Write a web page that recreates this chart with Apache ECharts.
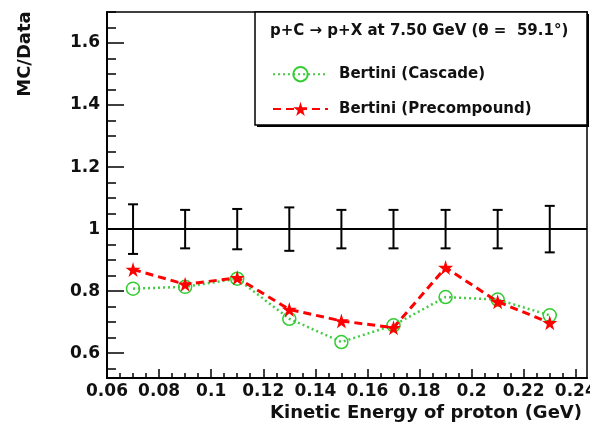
<!DOCTYPE html>
<html>
<head>
<meta charset="utf-8">
<script src="https://cdn.jsdelivr.net/npm/echarts@6/dist/echarts.min.js"></script>
<style>html,body{margin:0;padding:0;background:#fff}#c{width:590px;height:426px}</style>
</head>
<body>
<div id="c"></div>
<script>
// ---- data ----
const energies = [0.07, 0.09, 0.11, 0.13, 0.15, 0.17, 0.19, 0.21, 0.23];
const cascade = [0.808, 0.814, 0.84, 0.711, 0.636, 0.69, 0.781, 0.773, 0.722];
const precompound = [0.87, 0.822, 0.843, 0.741, 0.704, 0.682, 0.876, 0.766, 0.698];
const dataRatio = [1, 1, 1, 1, 1, 1, 1, 1, 1];
const dataErr = [0.08, 0.062, 0.065, 0.07, 0.062, 0.062, 0.062, 0.062, 0.075];
const xTickVals = [0.06, 0.08, 0.1, 0.12, 0.14, 0.16, 0.18, 0.2, 0.22, 0.24];
const xTickLabels = ['0.06', '0.08', '0.1', '0.12', '0.14', '0.16', '0.18', '0.2', '0.22', '0.24'];
const yTickVals = [0.6, 0.8, 1.0, 1.2, 1.4, 1.6];
const yTickLabels = ['0.6', '0.8', '1', '1.2', '1.4', '1.6'];
const seriesNames = ['Bertini (Cascade)', 'Bertini (Precompound)'];
const titleText = 'p+C \u2192 p+X at 7.50 GeV (\u03b8 =  59.1\u00b0)';
const xTitle = 'Kinetic Energy of proton (GeV)';
const yTitle = 'MC/Data';
const refValue = 1;
const xMin = 0.06, xMax = 0.2443, yMin = 0.52, yMax = 1.7;

// minor tick positions
const xMinor = [];
for (let i = 0; i <= 40; i++) { const v = +(0.06 + i * 0.005).toFixed(4); if (v <= xMax) xMinor.push(v); }
const yMinor = [];
for (let i = 0; i <= 30; i++) { const v = +(0.55 + i * 0.05).toFixed(4); if (v <= yMax) yMinor.push(v); }

const FONT = 'DejaVu Sans';
const chart = echarts.init(document.getElementById('c'), null, { renderer: 'canvas' });

function lbl(vals, labels) {
  return function (v) {
    for (let i = 0; i < vals.length; i++) if (Math.abs(vals[i] - v) < 1e-6) return labels[i];
    return '';
  };
}

const starPath = 'path://M50,0 L61,35 L98,35 L68,57 L79,91 L50,70 L21,91 L32,57 L2,35 L39,35 Z';

chart.setOption({
  animation: false,
  backgroundColor: '#fff',
  grid: { left: 107, right: 3, top: 12, bottom: 48, show: true, borderColor: '#000', borderWidth: 1.5,
    backgroundColor: 'transparent', containLabel: false, outerBoundsMode: 'none' },
  xAxis: [{
    type: 'value', min: xMin, max: xMax,
    axisLine: { show: true, lineStyle: { color: '#000', width: 2 } },
    axisTick: { show: true, inside: true, length: 9, customValues: xTickVals, lineStyle: { color: '#000', width: 1.5 } },
    axisLabel: { show: true, customValues: xTickVals, formatter: lbl(xTickVals, xTickLabels), margin: 5,
      fontFamily: FONT, fontWeight: 'bold', fontSize: 17, color: '#111', hideOverlap: false },
    splitLine: { show: false }
  }, {
    type: 'value', min: xMin, max: xMax, position: 'bottom',
    axisLine: { show: false },
    axisTick: { show: true, inside: true, length: 5, customValues: xMinor, lineStyle: { color: '#000', width: 1.5 } },
    axisLabel: { show: false },
    splitLine: { show: false }
  }],
  yAxis: [{
    type: 'value', min: yMin, max: yMax,
    axisLine: { show: true, lineStyle: { color: '#000', width: 2 } },
    axisTick: { show: true, inside: true, length: 17, customValues: yTickVals, lineStyle: { color: '#000', width: 1.5 } },
    axisLabel: { show: true, customValues: yTickVals, formatter: lbl(yTickVals, yTickLabels), margin: 7,
      fontFamily: FONT, fontWeight: 'bold', fontSize: 17, color: '#111' },
    splitLine: { show: false }
  }, {
    type: 'value', min: yMin, max: yMax, position: 'left',
    axisLine: { show: false },
    axisTick: { show: true, inside: true, length: 9, customValues: yMinor, lineStyle: { color: '#000', width: 1.5 } },
    axisLabel: { show: false },
    splitLine: { show: false }
  }],
  legend: {
    show: true, orient: 'vertical', left: 267, top: 61,
    itemWidth: 55, itemHeight: 18, itemGap: 19,
    data: seriesNames,
    textStyle: { fontFamily: FONT, fontWeight: 'bold', fontSize: 15, color: '#111', padding: [0, 0, 0, 6] },
    z: 10
  },
  series: [
    {
      type: 'line', name: '__ref', silent: true, symbol: 'none', z: 1,
      data: [[xMin, refValue], [xMax, refValue]],
      lineStyle: { color: '#000', width: 2 }
    },
    {
      type: 'custom', name: '__err', z: 2, silent: true,
      data: energies.map((x, i) => [x, dataRatio[i] - dataErr[i], dataRatio[i] + dataErr[i]]),
      encode: { x: 0, y: [1, 2] },
      renderItem: function (params, api) {
        const lo = api.coord([api.value(0), api.value(1)]);
        const hi = api.coord([api.value(0), api.value(2)]);
        const w = 5;
        const st = { stroke: '#000', lineWidth: 2 };
        return { type: 'group', children: [
          { type: 'line', shape: { x1: lo[0], y1: lo[1], x2: hi[0], y2: hi[1] }, style: st },
          { type: 'line', shape: { x1: lo[0] - w, y1: lo[1], x2: lo[0] + w, y2: lo[1] }, style: st },
          { type: 'line', shape: { x1: hi[0] - w, y1: hi[1], x2: hi[0] + w, y2: hi[1] }, style: st }
        ] };
      }
    },
    {
      type: 'line', name: seriesNames[0], z: 3,
      data: energies.map((x, i) => [x, cascade[i]]),
      symbol: 'circle', symbolSize: 13, showAllSymbol: true,
      itemStyle: { color: 'rgba(255,255,255,0)', borderColor: '#33cc33', borderWidth: 1.5 },
      lineStyle: { color: '#44cc44', width: 2.5, type: [2, 3] }
    },
    {
      type: 'line', name: seriesNames[1], z: 4,
      data: energies.map((x, i) => [x, precompound[i]]),
      symbol: starPath, symbolSize: 15, showAllSymbol: true,
      itemStyle: { color: '#ff0000' },
      lineStyle: { color: '#ff0000', width: 3, type: [8, 5] }
    }
  ],
  graphic: [
    { type: 'rect', z: 5, shape: { x: 257, y: 14, width: 332, height: 113 }, style: { fill: '#000' } },
    { type: 'rect', z: 6, shape: { x: 255, y: 12, width: 332, height: 113 }, style: { fill: '#fff', stroke: '#000', lineWidth: 1.5 } },
    { type: 'text', z: 7, x: 270, y: 31, style: { text: titleText, fontFamily: FONT, fontWeight: 'bold', fontSize: 15, fill: '#111', textAlign: 'left', textVerticalAlign: 'middle' } },
    { type: 'text', z: 7, x: 582, y: 413, style: { text: xTitle, fontFamily: FONT, fontWeight: 'bold', fontSize: 18, fill: '#111', textAlign: 'right', textVerticalAlign: 'middle' } },
    { type: 'text', z: 7, x: 25, y: 54, rotation: Math.PI / 2, style: { text: yTitle, fontFamily: FONT, fontWeight: 'bold', fontSize: 18, fill: '#111', textAlign: 'center', textVerticalAlign: 'middle' } }
  ]
});
</script>
</body>
</html>
